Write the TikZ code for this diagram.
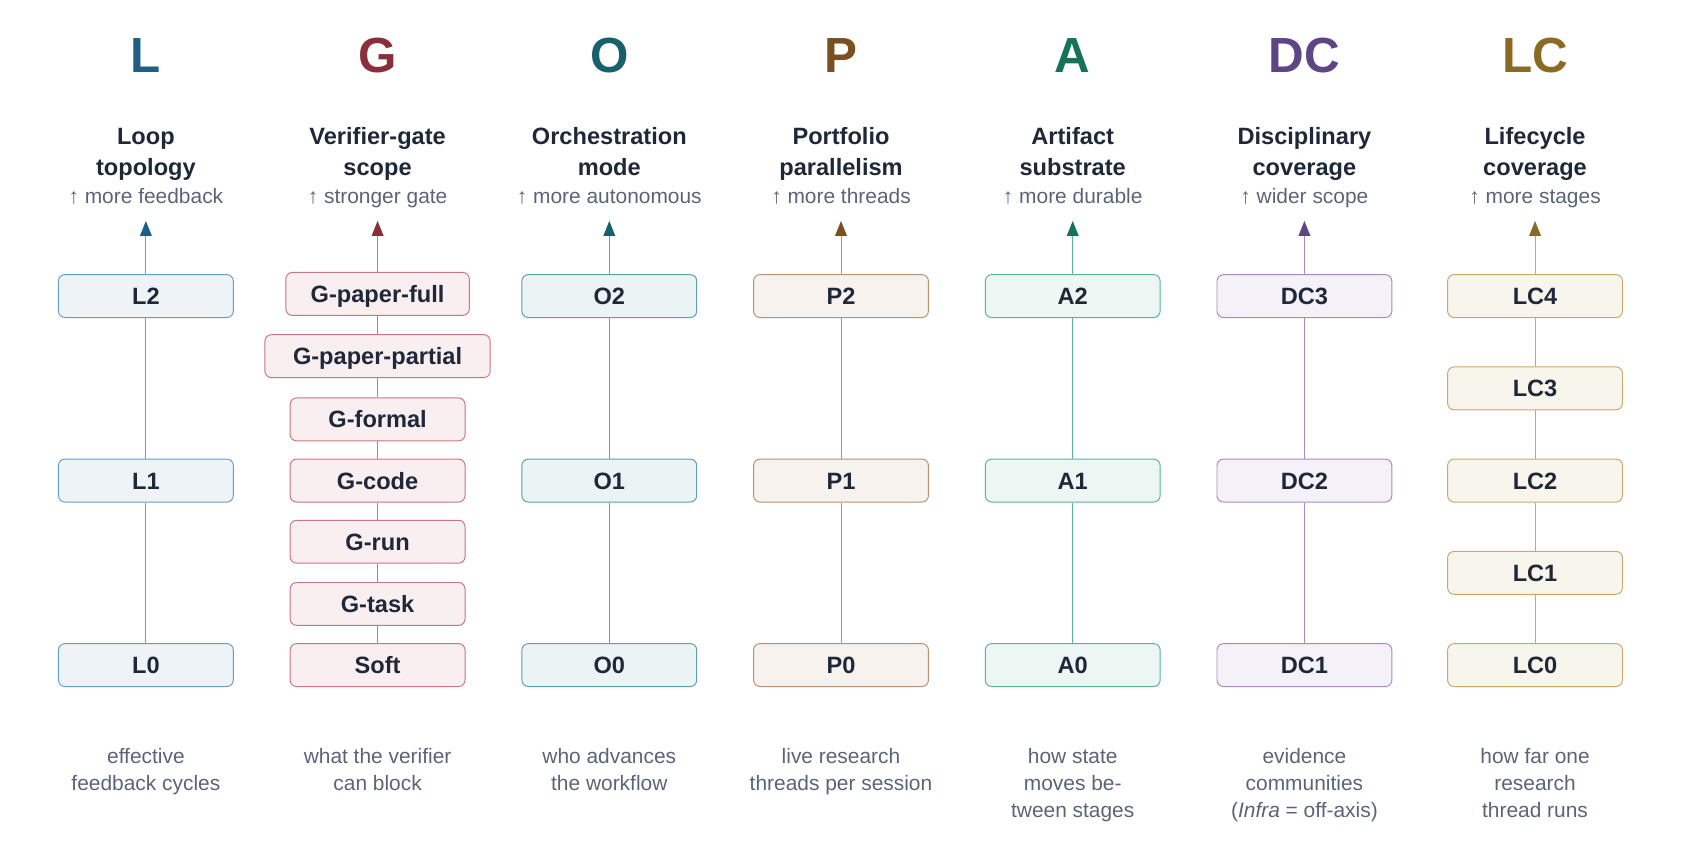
\documentclass[tikz,border=0pt]{standalone}
\usepackage{fontspec}
\setmainfont{Liberation Sans}
\usetikzlibrary{arrows.meta}
\definecolor{ink}{HTML}{1E2838}
\definecolor{sub}{HTML}{5A6478}
\begin{document}
\begin{tikzpicture}[x=1pt,y=-1pt,
  lvl/.style={draw=#1, fill=#1!12, rounded corners=6pt, line width=0.9pt, minimum width=163pt, minimum height=40pt, font=\bfseries\fontsize{22}{26}\selectfont, text=ink, inner sep=2pt, text height=15.8pt, text depth=0pt},
  big/.style={font=\bfseries\fontsize{46}{50}\selectfont, anchor=base},
  ttl/.style={font=\bfseries\fontsize{22}{29}\selectfont, text=ink, align=center, anchor=base},
  hint/.style={font=\fontsize{19.5}{22}\selectfont, text=sub, anchor=base},
  desc/.style={font=\fontsize{19.5}{25}\selectfont, text=sub, align=center, anchor=base},
  conn/.style={draw=#1, line width=0.9pt},
  up/.style={-{Triangle[length=14pt,width=11pt,color=#1]}}]
\useasboundingbox (0,0) rectangle (1568,803);
\definecolor{Ld}{HTML}{1F5F85}\definecolor{Lb}{HTML}{6A9EC0}
\definecolor{Gd}{HTML}{8B2E3C}\definecolor{Gb}{HTML}{C97683}
\definecolor{Od}{HTML}{16616B}\definecolor{Ob}{HTML}{5E9FA8}
\definecolor{Pd}{HTML}{7A5020}\definecolor{Pb}{HTML}{B99070}
\definecolor{Ad}{HTML}{16735A}\definecolor{Ab}{HTML}{5FB394}
\definecolor{Dd}{HTML}{5E4585}\definecolor{Db}{HTML}{A38CC4}
\definecolor{Cd}{HTML}{8A6A25}\definecolor{Cb}{HTML}{C8A96A}
% headers
\foreach \x/\c/\l/\t/\h/\n in {
 136/L/L/{Loop\\topology}/more feedback/1,
 352/G/G/{Verifier-gate\\scope}/stronger gate/2,
 568/O/O/{Orchestration\\mode}/more autonomous/3,
 784/P/P/{Portfolio\\parallelism}/more threads/4,
 1000/A/A/{Artifact\\substrate}/more durable/5,
 1216/D/DC/{Disciplinary\\coverage}/wider scope/6,
 1431/C/LC/{Lifecycle\\coverage}/more stages/7}{
  \node[big, text=\c d] (let\n) at (\x,68) {\l};
  \node[ttl] (ttl\n) at (\x,164) {\t};
  \node[hint] (hint\n) at (\x,190) {\char"2191\ \h};
  \coordinate (tip\n) at (\x,206);
}
% L
\node[lvl=Lb] (L2) at (136,276) {L2};
\node[lvl=Lb] (L1) at (136,448) {L1};
\node[lvl=Lb] (L0) at (136,620) {L0};
\draw[conn=Lb] (L0)--(L1) (L1)--(L2);
\draw[conn=Lb, up=Ld] (L2.north)--(tip1);
% G
\node[lvl=Gb, minimum width=171pt] (G6) at (352,274) {G-paper-full};
\node[lvl=Gb, minimum width=210pt] (G5) at (352,332) {G-paper-partial};
\node[lvl=Gb] (G4) at (352,391) {G-formal};
\node[lvl=Gb] (G3) at (352,448) {G-code};
\node[lvl=Gb] (G2) at (352,505) {G-run};
\node[lvl=Gb] (G1) at (352,563) {G-task};
\node[lvl=Gb] (G0) at (352,620) {Soft};
\draw[conn=Gb] (G0)--(G1) (G1)--(G2) (G2)--(G3) (G3)--(G4) (G4)--(G5) (G5)--(G6);
\draw[conn=Gb, up=Gd] (G6.north)--(tip2);
% O
\node[lvl=Ob] (O2) at (568,276) {O2};
\node[lvl=Ob] (O1) at (568,448) {O1};
\node[lvl=Ob] (O0) at (568,620) {O0};
\draw[conn=Ob] (O0)--(O1) (O1)--(O2);
\draw[conn=Ob, up=Od] (O2.north)--(tip3);
% P
\node[lvl=Pb] (P2) at (784,276) {P2};
\node[lvl=Pb] (P1) at (784,448) {P1};
\node[lvl=Pb] (P0) at (784,620) {P0};
\draw[conn=Pb] (P0)--(P1) (P1)--(P2);
\draw[conn=Pb, up=Pd] (P2.north)--(tip4);
% A
\node[lvl=Ab] (A2) at (1000,276) {A2};
\node[lvl=Ab] (A1) at (1000,448) {A1};
\node[lvl=Ab] (A0) at (1000,620) {A0};
\draw[conn=Ab] (A0)--(A1) (A1)--(A2);
\draw[conn=Ab, up=Ad] (A2.north)--(tip5);
% DC
\node[lvl=Db] (D3) at (1216,276) {DC3};
\node[lvl=Db] (D2) at (1216,448) {DC2};
\node[lvl=Db] (D1) at (1216,620) {DC1};
\draw[conn=Db] (D1)--(D2) (D2)--(D3);
\draw[conn=Db, up=Dd] (D3.north)--(tip6);
% LC
\node[lvl=Cb] (C4) at (1431,276) {LC4};
\node[lvl=Cb] (C3) at (1431,362) {LC3};
\node[lvl=Cb] (C2) at (1431,448) {LC2};
\node[lvl=Cb] (C1) at (1431,534) {LC1};
\node[lvl=Cb] (C0) at (1431,620) {LC0};
\draw[conn=Cb] (C0)--(C1) (C1)--(C2) (C2)--(C3) (C3)--(C4);
\draw[conn=Cb, up=Cd] (C4.north)--(tip7);
% descriptions
\node[desc] (d1) at (136,737) {effective\\feedback cycles};
\node[desc] (d2) at (352,737) {what the verifier\\can block};
\node[desc] (d3) at (568,737) {who advances\\the workflow};
\node[desc] (d4) at (784,737) {live research\\threads per session};
\node[desc] (d5) at (1000,762) {how state\\moves be-\\tween stages};
\node[desc] (d6) at (1216,762) {evidence\\communities\\(\textit{Infra} = off-axis)};
\node[desc] (d7) at (1431,762) {how far one\\research\\thread runs};
\end{tikzpicture}
\end{document}
